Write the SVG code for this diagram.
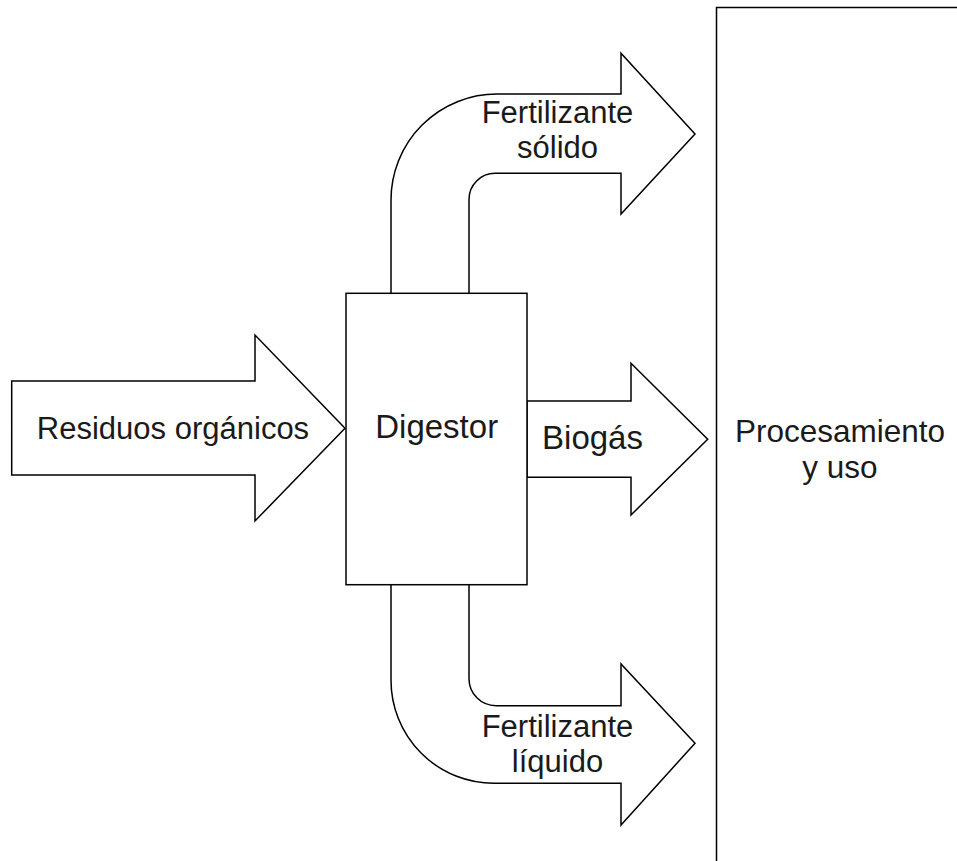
<svg xmlns="http://www.w3.org/2000/svg" width="957" height="861" viewBox="0 0 957 861">
<style>
.sh{fill:#fff;stroke:#000;stroke-width:1.5;stroke-linejoin:miter}
.t{font-family:"Liberation Sans",Arial,sans-serif;font-size:31px;fill:#1a1a1a;text-anchor:middle}
.l{font-size:33px}
.m{font-size:31.5px}
</style>
<rect x="0" y="0" width="957" height="861" fill="#fff"/>
<g id="connectors">
  <g id="arrow-residuos">
    <path class="sh" d="M11.7,381 L255,381 L255,335 L345,428.3 L255,521 L255,475 L11.7,475 Z"/>
    <text class="t" x="173" y="439">Residuos orgánicos</text>
  </g>
  <g id="arrow-solido">
    <path class="sh" d="M391,293 L391,200 A106,106 0 0 1 497,94 L621,94 L621,53.3 L695,134 L621,214 L621,173.3 L495,173.3 A26,26 0 0 0 469,199.3 L469,293"/>
    <text class="t" x="557.5" y="123.3">Fertilizante</text>
    <text class="t" x="557.5" y="158.3">sólido</text>
  </g>
  <g id="arrow-biogas">
    <path class="sh" d="M527,401 L631,401 L631,363.3 L707.7,439.3 L631,515 L631,477.3 L527,477.3 Z"/>
    <text class="t l" x="592.5" y="449.3">Biogás</text>
  </g>
  <g id="arrow-liquido">
    <path class="sh" d="M391,585 L391,680 A103,103 0 0 0 494,783.3 L621,783.3 L621,825 L695,743.3 L621,664 L621,705.7 L496,705.7 A27,27 0 0 1 469,678.7 L469,585"/>
    <text class="t" x="557.5" y="736.7">Fertilizante</text>
    <text class="t" x="557.5" y="771.7">líquido</text>
  </g>
</g>
<g id="digestor">
  <rect class="sh" x="346" y="293.3" width="181" height="291.4"/>
  <text class="t l" x="436.7" y="438.3">Digestor</text>
</g>
<g id="procesamiento">
  <rect class="sh" x="716.5" y="7.5" width="260" height="900"/>
  <text class="t m" x="840" y="442">Procesamiento</text>
  <text class="t m" x="840" y="478">y uso</text>
</g>
</svg>
